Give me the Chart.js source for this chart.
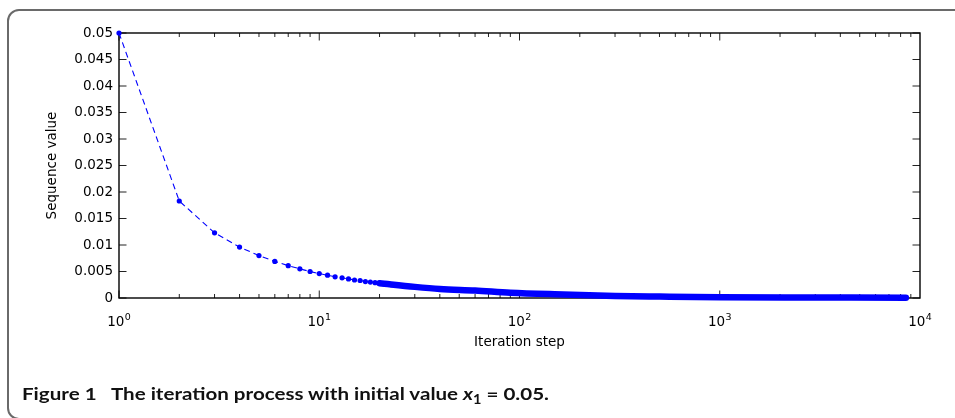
<!DOCTYPE html>
<html><head><meta charset="utf-8">
<script src="https://cdn.jsdelivr.net/npm/chart.js@4/dist/chart.umd.min.js"></script>
<style>
html,body{margin:0;padding:0;background:#fff;width:955px;height:418px;overflow:hidden;}
#frame{position:absolute;left:7px;top:9px;width:990px;height:411px;border:2px solid #6a6a6a;border-radius:12px;box-sizing:border-box;}
#wrap{position:absolute;left:0;top:0;width:955px;height:418px;}
#caption{position:absolute;left:22px;top:384px;font-family:Lato,'Open Sans',sans-serif;font-weight:bold;font-size:17.7px;line-height:20px;white-space:pre;transform-origin:0 0;color:#111;}
#caption sub{font-size:12.5px;line-height:0;vertical-align:-4px;}
</style></head><body>
<div id="frame"></div>
<div id="wrap"><canvas id="c" width="955" height="418"></canvas></div>
<div id="caption">Figure 1   The iteration process with initial value <i>x</i><sub>1</sub> = 0.05.</div>
<script>
// ---- data ----
const stepsEarly  = [1,2,3,4,5,6,7,8,9,10,11,12,13,14,15,16,17,18,19,20,21,22,23,24,25];
const valuesEarly = [0.05,0.0183,0.0123,0.0096,0.0080,0.0069,0.0061,0.0055,0.0050,0.0046,
                     0.0043,0.0040,0.0038,0.0036,0.0034,0.0033,0.0031,0.0030,0.0029,0.0028,
                     0.0027,0.0026,0.0025,0.0024,0.0024];
// dense tail where the markers merge into one band
const stepsTail  = [20,30,40,60,90,150,300,500,1000,3000,8500];
const valuesTail = [0.0028,0.0021,0.0017,0.0014,0.0010,0.0007,0.0004,0.00028,0.00015,0.0001,0.00006];
const yTickValues = [0,0.005,0.01,0.015,0.02,0.025,0.03,0.035,0.04,0.045,0.05];
const yTickLabels = ['0','0.005','0.01','0.015','0.02','0.025','0.03','0.035','0.04','0.045','0.05'];
const xTickValues = [1,10,100,1000,10000];
const xTickBase = '10';
const xTickExponents = ['0','1','2','3','4'];
const xTitle = 'Iteration step';
const yTitle = 'Sequence value';

const FONT = 'DejaVu Sans';
const BLUE = '#0000ff';

const axesBox = {
  id: 'axesBox',
  beforeDatasetsDraw(chart) {
    const {ctx, chartArea: a, scales: {x, y}} = chart;
    ctx.save();
    ctx.strokeStyle = '#222';
    ctx.lineWidth = 1;
    ctx.beginPath();
    yTickValues.forEach(v => {
      const py = y.getPixelForValue(v);
      ctx.moveTo(a.left, py); ctx.lineTo(a.left + 7.5, py);
      ctx.moveTo(a.right, py); ctx.lineTo(a.right - 7.5, py);
    });
    for (let e = 0; e < 4; e++) {
      for (let m = 1; m <= 9; m++) {
        const px = x.getPixelForValue(m * Math.pow(10, e));
        const L = m === 1 ? 7.5 : 4;
        ctx.moveTo(px, a.bottom); ctx.lineTo(px, a.bottom - L);
        ctx.moveTo(px, a.top); ctx.lineTo(px, a.top + L);
      }
    }
    ctx.stroke();
    ctx.strokeStyle = '#000';
    ctx.lineWidth = 1.4;
    ctx.strokeRect(a.left, a.top, a.right - a.left, a.bottom - a.top);
    // x tick labels with superscript exponents
    ctx.fillStyle = '#000';
    ctx.textBaseline = 'alphabetic';
    ctx.textAlign = 'left';
    xTickValues.forEach((v, i) => {
      const px = x.getPixelForValue(v);
      ctx.font = '13.5px "' + FONT + '"';
      const wb = ctx.measureText(xTickBase).width;
      ctx.font = '9.5px "' + FONT + '"';
      const we = ctx.measureText(xTickExponents[i]).width;
      const x0 = px - (wb + we + 0.5) / 2;
      ctx.font = '13.5px "' + FONT + '"';
      ctx.fillText(xTickBase, x0, 326);
      ctx.font = '9.5px "' + FONT + '"';
      ctx.fillText(xTickExponents[i], x0 + wb + 0.5, 319.5);
    });
    ctx.restore();
  }
};

new Chart(document.getElementById('c'), {
  type: 'line',
  data: {
    datasets: [
      {
        label: 'tail',
        data: stepsTail.map((s, i) => ({x: s, y: valuesTail[i]})),
        borderColor: BLUE,
        borderWidth: 6.5,
        borderCapStyle: 'round',
        cubicInterpolationMode: 'monotone',
        pointRadius: 0,
        clip: false,
        order: 2
      },
      {
        label: 'Sequence',
        data: stepsEarly.map((s, i) => ({x: s, y: valuesEarly[i]})),
        borderColor: BLUE,
        borderWidth: 1.1,
        borderDash: [6, 4],
        pointRadius: 2.6,
        pointBorderWidth: 0,
        pointBackgroundColor: BLUE,
        pointBorderColor: BLUE,
        clip: false,
        order: 1
      }
    ]
  },
  options: {
    responsive: false,
    animation: false,
    layout: {padding: {left: 44, right: 35, top: 33, bottom: 67}},
    plugins: {legend: {display: false}, tooltip: {enabled: false}},
    scales: {
      x: {
        type: 'logarithmic', min: 1, max: 10000,
        grid: {display: false, drawTicks: false}, border: {display: false},
        ticks: {display: false},
        title: {display: true, text: xTitle, color: '#000', padding: 0,
                font: {family: FONT, size: 13.5}},
        afterFit: s => { s.height = 53; }
      },
      y: {
        type: 'linear', min: 0, max: 0.05,
        afterBuildTicks: s => { s.ticks = yTickValues.map(v => ({value: v})); },
        grid: {display: false, drawTicks: false, tickLength: 0}, border: {display: false},
        ticks: {color: '#000', padding: 6, font: {family: FONT, size: 13.5},
                callback: (v, i) => yTickLabels[i]},
        title: {display: true, text: yTitle, color: '#000', padding: 0,
                font: {family: FONT, size: 13.5}},
        afterFit: s => { s.width = 75; }
      }
    }
  },
  plugins: [axesBox]
});

const cap = document.getElementById('caption');
const w = cap.getBoundingClientRect().width;
cap.style.transform = 'scaleX(' + (527 / w) + ')';
</script>
</body></html>
